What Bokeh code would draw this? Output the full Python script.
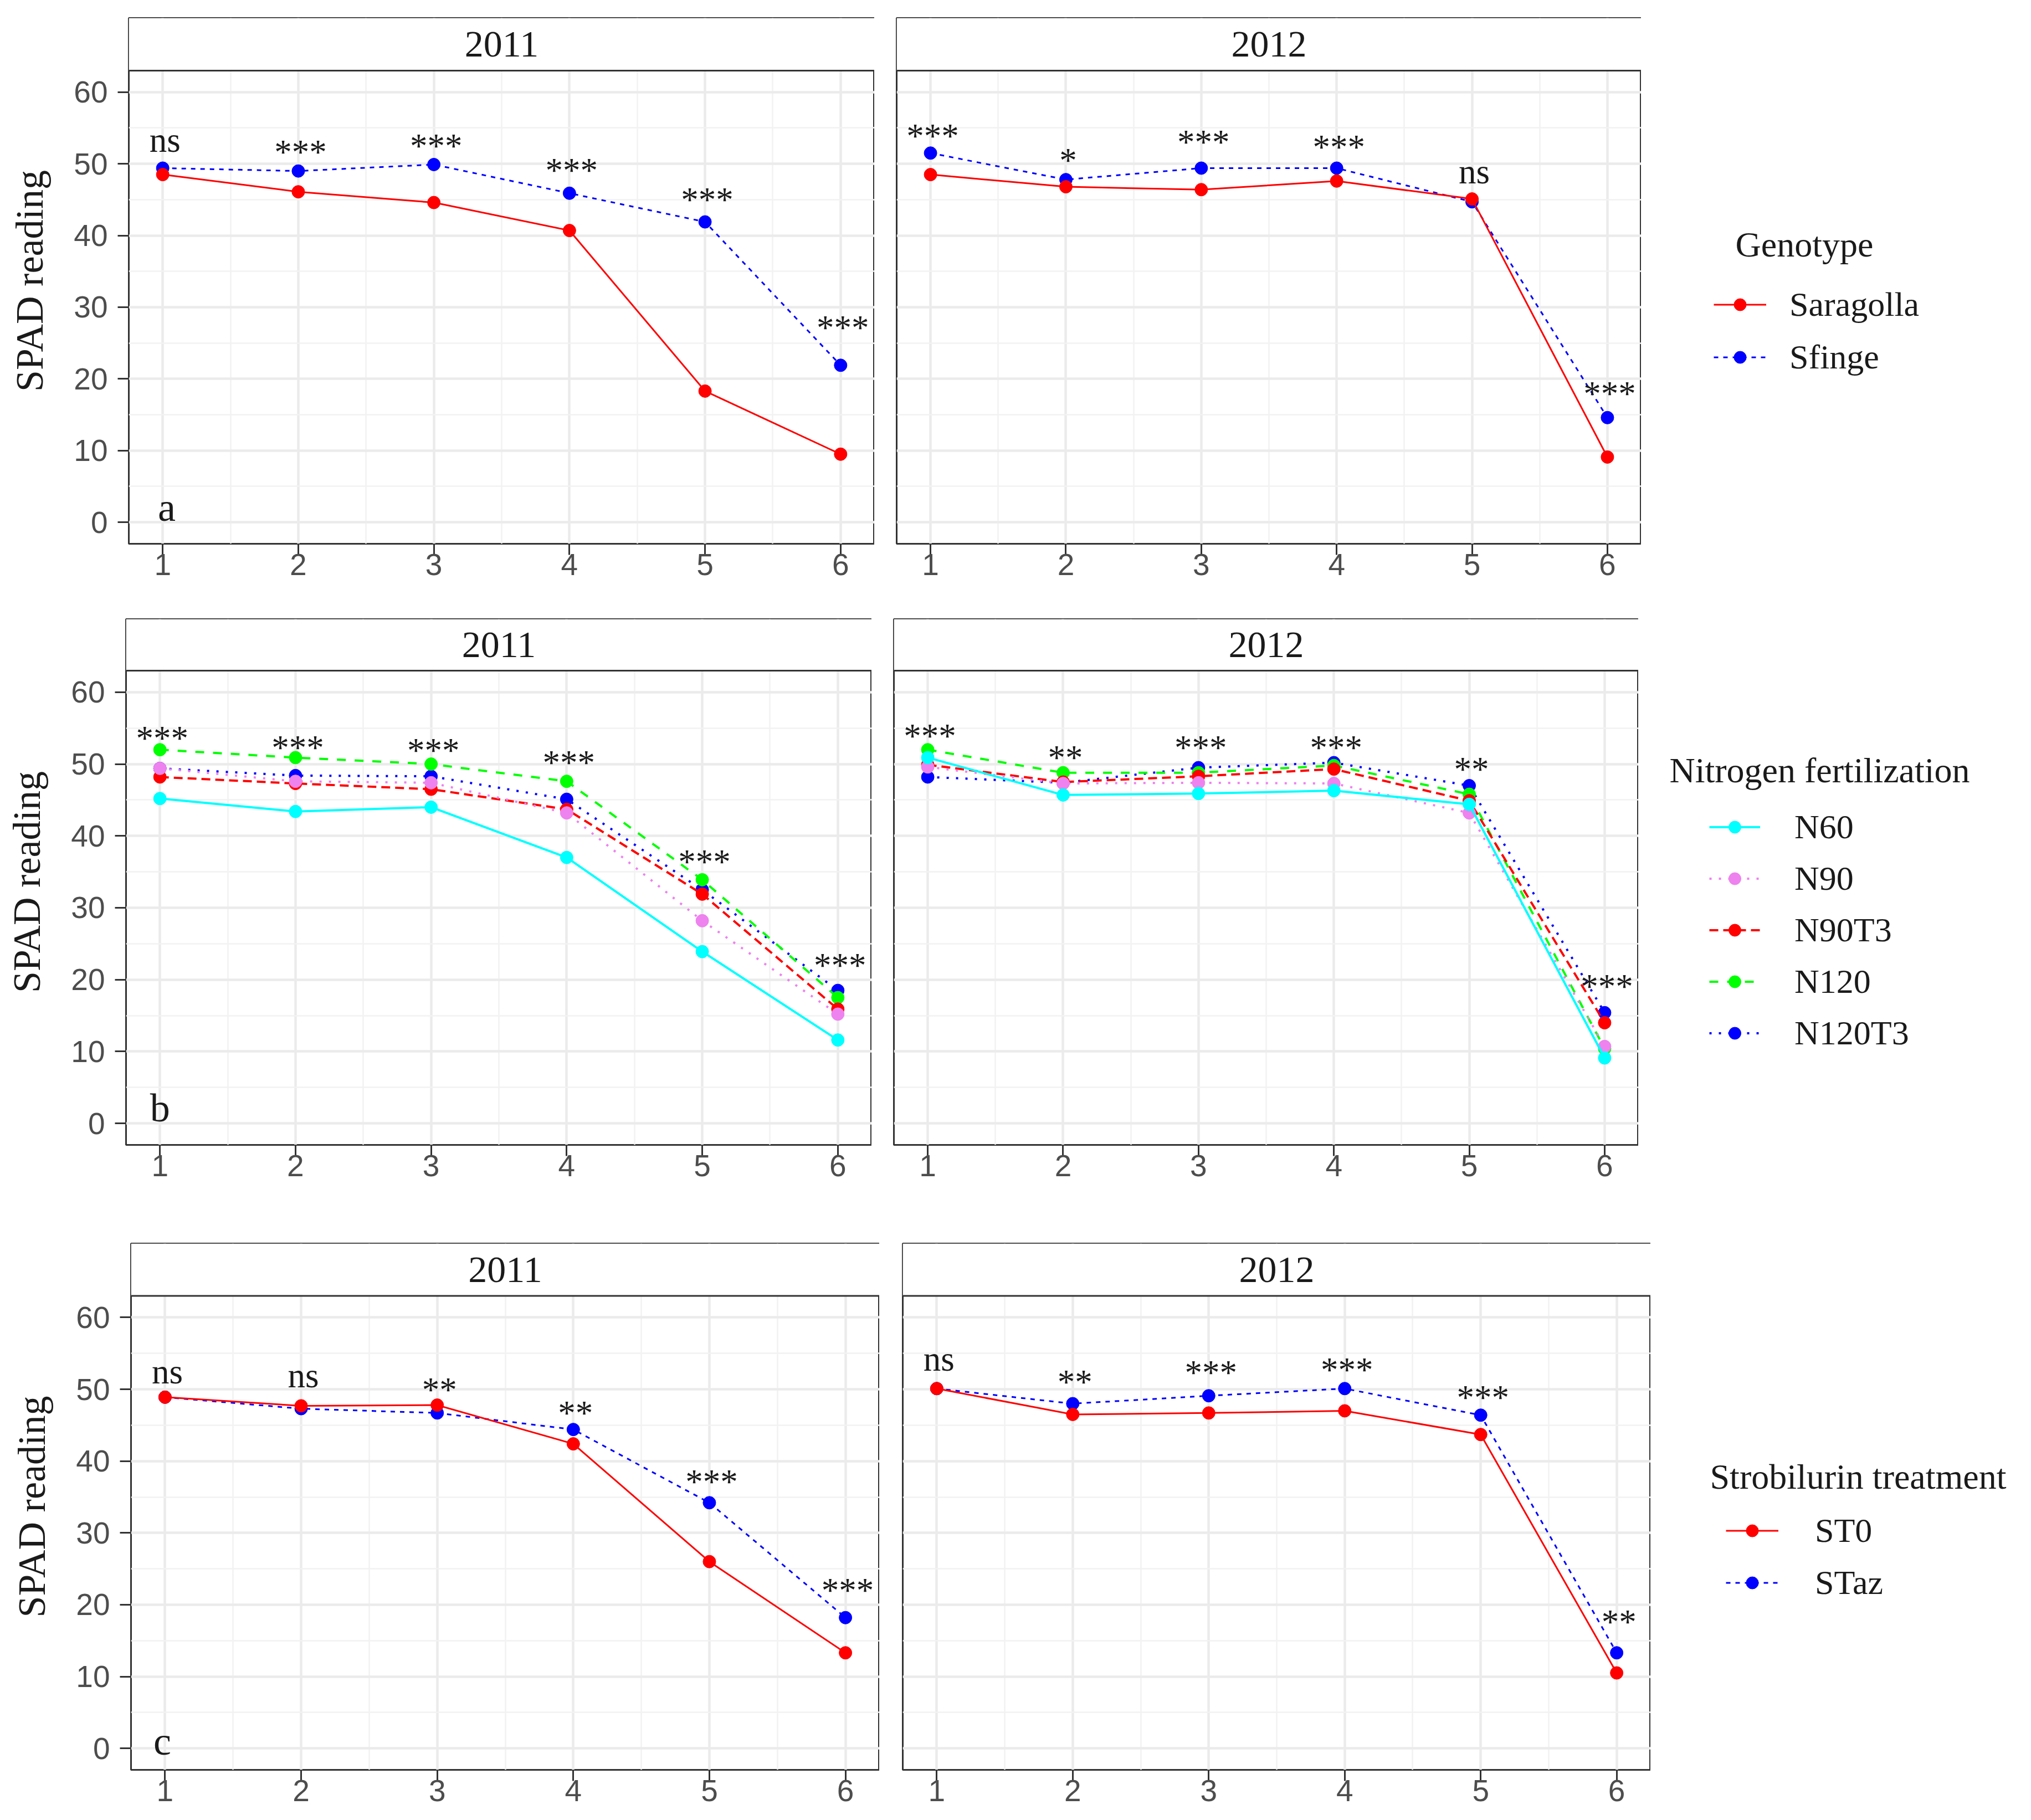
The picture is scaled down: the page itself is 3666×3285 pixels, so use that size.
from bokeh.plotting import figure
from bokeh.layouts import column, row
from bokeh.models import FixedTicker, BoxAnnotation, Span, Label, Legend, LegendItem
from bokeh.embed import file_html
from bokeh.resources import INLINE
from bokeh.core.properties import value

# ---------------- data ----------------
stages = [1, 2, 3, 4, 5, 6]
years = ["2011", "2012"]
y_ticks = [0, 10, 20, 30, 40, 50, 60]
y_label = "SPAD reading"

# (a) Genotype
geno_names = ["Saragolla", "Sfinge"]
saragolla_2011 = [48.5, 46.1, 44.6, 40.7, 18.3, 9.5]
sfinge_2011 = [49.4, 49.0, 49.9, 45.9, 41.9, 21.9]
saragolla_2012 = [48.5, 46.8, 46.4, 47.6, 45.1, 9.1]
sfinge_2012 = [51.5, 47.8, 49.4, 49.4, 44.7, 14.6]
sig_a_2011 = ["ns", "***", "***", "***", "***", "***"]
sig_a_2011_y = [53.0, 52.5, 53.4, 50.0, 45.9, 28.0]
sig_a_2012 = ["***", "*", "***", "***", "ns", "***"]
sig_a_2012_y = [54.8, 51.4, 53.9, 53.2, 48.6, 18.8]

# (b) Nitrogen fertilization
nitro_names = ["N60", "N90", "N90T3", "N120", "N120T3"]
n60_2011 = [45.2, 43.4, 44.0, 37.0, 23.9, 11.6]
n90_2011 = [49.4, 47.6, 47.4, 43.2, 28.2, 15.2]
n90t3_2011 = [48.2, 47.3, 46.5, 43.7, 31.9, 15.9]
n120_2011 = [52.0, 50.9, 50.0, 47.6, 33.9, 17.5]
n120t3_2011 = [49.4, 48.4, 48.3, 45.1, 32.5, 18.5]
n60_2012 = [50.9, 45.7, 45.9, 46.3, 44.4, 9.1]
n90_2012 = [49.6, 47.3, 47.4, 47.3, 43.2, 10.7]
n90t3_2012 = [49.9, 47.5, 48.3, 49.3, 44.9, 14.0]
n120_2012 = [52.0, 48.8, 48.8, 49.8, 45.8, 10.4]
n120t3_2012 = [48.2, 47.4, 49.5, 50.2, 47.0, 15.4]
sig_b_2011 = ["***", "***", "***", "***", "***", "***"]
sig_b_2011_y = [54.5, 53.2, 52.8, 51.1, 37.3, 22.9]
sig_b_2012 = ["***", "**", "***", "***", "**", "***"]
sig_b_2012_y = [54.8, 51.8, 53.2, 53.2, 50.2, 19.9]

# (c) Strobilurin treatment
strob_names = ["ST0", "STaz"]
st0_2011 = [48.9, 47.7, 47.8, 42.4, 26.0, 13.3]
staz_2011 = [48.9, 47.3, 46.7, 44.4, 34.2, 18.2]
st0_2012 = [50.1, 46.5, 46.7, 47.0, 43.7, 10.5]
staz_2012 = [50.1, 48.0, 49.1, 50.1, 46.4, 13.3]
sig_c_2011 = ["ns", "ns", "**", "**", "***", "***"]
sig_c_2011_y = [52.1, 51.6, 50.8, 47.6, 38.0, 22.9]
sig_c_2012 = ["ns", "**", "***", "***", "***", "**"]
sig_c_2012_y = [53.9, 51.9, 53.2, 53.6, 49.7, 18.5]

SERIF = "Liberation Serif"
SANS = "Liberation Sans"
TXT = "#1a1a1a"
RED, BLUE = "#ff0000", "#0000ff"
CYAN, VIOLET, GREEN = "#00ffff", "#ee82ee", "#00ff00"


def style_axis(ax):
    ax.axis_line_color = None
    ax.major_tick_out = 20
    ax.major_tick_in = 0
    ax.minor_tick_out = 0
    ax.minor_tick_in = 0
    ax.major_tick_line_color = "#333333"
    ax.major_tick_line_width = 3
    ax.major_label_text_font = SANS
    ax.major_label_text_font_size = "55px"
    ax.major_label_text_color = "#4d4d4d"


def make_panel(year, series, sig, sig_y, show_y, fw, fh, ytop, bl, bt, bb,
               letter=None, letter_x=None, letter_y=None):
    p = figure(frame_width=fw, frame_height=fh, x_range=(0.75, 6.25), y_range=(-3, ytop),
               output_backend="svg", toolbar_location=None, title=None,
               min_border_left=bl, min_border_right=0, min_border_top=bt, min_border_bottom=bb)
    p.background_fill_color = "white"
    p.border_fill_color = "white"
    p.outline_line_color = "#333333"
    p.outline_line_width = 3

    xa = p.xaxis[0]
    xa.ticker = FixedTicker(ticks=stages)
    style_axis(xa)
    xa.major_label_standoff = -2

    ya = p.yaxis[0]
    ya.ticker = FixedTicker(ticks=y_ticks)
    if show_y:
        style_axis(ya)
        ya.major_label_standoff = 18
        ya.axis_label = y_label
        ya.axis_label_text_font = SERIF
        ya.axis_label_text_font_style = "normal"
        ya.axis_label_text_font_size = "70px"
        ya.axis_label_text_color = TXT
        ya.axis_label_standoff = 38
    else:
        ya.visible = False

    p.xgrid.ticker = FixedTicker(ticks=stages, minor_ticks=[s + 0.5 for s in stages[:-1]])
    p.ygrid.ticker = FixedTicker(ticks=y_ticks, minor_ticks=[t + 5 for t in y_ticks[:-1]])
    for g in (p.xgrid[0], p.ygrid[0]):
        g.grid_line_color = "#ebebeb"
        g.grid_line_width = 4.5
        g.minor_grid_line_color = "#f2f2f2"
        g.minor_grid_line_width = 2.5

    for (name, vals, color, dash, lw) in series:
        p.line(stages, vals, line_color=color, line_width=lw, line_dash=dash)
        p.scatter(stages, vals, size=23, marker="circle", fill_color=color, line_color=color)

    offs = {"*": 12, "**": 12, "***": 12, "ns": -4}
    p.text(x=stages, y=sig_y, text=sig, x_offset=4, y_offset=[offs[s] for s in sig],
           text_align="center", text_baseline="middle", text_font=value(SERIF),
           text_font_size="63px", text_color=TXT)

    # facet strip
    p.add_layout(BoxAnnotation(bottom=63, fill_color="white", fill_alpha=1.0, line_color=None))
    p.add_layout(Span(location=63, dimension="width", line_color="#333333", line_width=3))
    p.add_layout(Label(x=3.5, y=(63 + ytop) / 2, text=year, text_align="center", text_baseline="middle",
                       text_font=SERIF, text_font_size="68px", text_color=TXT))

    if letter is not None:
        p.add_layout(Label(x=letter_x, y=letter_y, text=letter, text_align="center", text_baseline="middle",
                           text_font=SERIF, text_font_size="72px", text_color=TXT))
    return p


def make_legend(series, order, title, fw, fh, bt, bb, lx, ly, tx, ty, gw, standoff, spacing):
    p = figure(frame_width=fw, frame_height=fh, x_range=(0.75, 6.25), y_range=(-3, 63),
               output_backend="svg", toolbar_location=None, title=None,
               x_axis_location=None, y_axis_location=None,
               min_border_left=0, min_border_right=0, min_border_top=bt, min_border_bottom=bb)
    p.outline_line_color = None
    p.xgrid.visible = False
    p.ygrid.visible = False
    rends = {}
    for (name, vals, color, dash, lw) in series:
        lr = p.line(stages, vals, line_color=color, line_width=lw, line_dash=dash, visible=False)
        sr = p.scatter(stages, vals, size=23, marker="circle", fill_color=color, line_color=color,
                       visible=False)
        rends[name] = [lr, sr]
    items = [LegendItem(label=n, renderers=rends[n]) for n in order]
    lg = Legend(items=items, location=(lx, ly), orientation="vertical",
                border_line_color=None, background_fill_alpha=0, padding=0, margin=0,
                spacing=spacing, glyph_width=gw, glyph_height=55, label_height=55,
                label_standoff=standoff, label_text_font=SERIF, label_text_font_size="62px",
                label_text_color=TXT, label_text_baseline="middle",
                inactive_fill_alpha=0)
    p.add_layout(lg)
    p.add_layout(Label(x=tx, y=ty, x_units="screen", y_units="screen", text=title,
                       text_align="left", text_baseline="middle", text_font=SERIF,
                       text_font_size="64px", text_color=TXT))
    return p


# ---- row a ----
a11 = [("Sfinge", sfinge_2011, BLUE, "8 9", 3), ("Saragolla", saragolla_2011, RED, "solid", 3)]
a12 = [("Sfinge", sfinge_2012, BLUE, "8 9", 3), ("Saragolla", saragolla_2012, RED, "solid", 3)]
pa1 = make_panel(years[0], a11, sig_a_2011, sig_a_2011_y, True, 1346, 949, 70.34, 232, 32, 99,
                 letter="a", letter_x=1.03, letter_y=2.1)
pa2 = make_panel(years[1], a12, sig_a_2012, sig_a_2012_y, False, 1344, 949, 70.34, 40, 32, 99)
pa3 = make_legend(a12, geno_names, "Genotype", 696, 949, 32, 99, 131, 301, 170, 540, 95, 42, 24)

# ---- row b ----
def nseries(v60, v90, v90t3, v120, v120t3):
    return [("N120T3", v120t3, BLUE, "4 13", 4), ("N120", v120, GREEN, "16 16", 4),
            ("N90T3", v90t3, RED, "16 9", 4), ("N90", v90, VIOLET, "4 13", 4),
            ("N60", v60, CYAN, "solid", 4)]

b11 = nseries(n60_2011, n90_2011, n90t3_2011, n120_2011, n120t3_2011)
b12 = nseries(n60_2012, n90_2012, n90t3_2012, n120_2012, n120t3_2012)
pb1 = make_panel(years[0], b11, sig_b_2011, sig_b_2011_y, True, 1346, 949, 70.17, 227, 37, 114,
                 letter="b", letter_x=1.0, letter_y=2.1)
pb2 = make_panel(years[1], b12, sig_b_2012, sig_b_2012_y, False, 1344, 949, 70.17, 40, 37, 114)
pb3 = make_legend(b12, nitro_names, "Nitrogen fertilization", 701, 949, 37, 114,
                  128, 166, 56, 676, 92, 62, 22)

# ---- row c ----
c11 = [("STaz", staz_2011, BLUE, "8 9", 3), ("ST0", st0_2011, RED, "solid", 3)]
c12 = [("STaz", staz_2012, BLUE, "8 9", 3), ("ST0", st0_2012, RED, "solid", 3)]
pc1 = make_panel(years[0], c11, sig_c_2011, sig_c_2011_y, True, 1351, 950, 70.3, 236, 64, 88,
                 letter="c", letter_x=0.98, letter_y=1.0)
pc2 = make_panel(years[1], c12, sig_c_2012, sig_c_2012_y, False, 1350, 950, 70.3, 42, 64, 88)
pc3 = make_legend(c12, strob_names, "Strobilurin treatment", 679, 950, 64, 88,
                  136, 302, 107, 529, 95, 66, 23)

layout = column(row(pa1, pa2, pa3, spacing=0), row(pb1, pb2, pb3, spacing=0),
                row(pc1, pc2, pc3, spacing=0), spacing=0)

open("out.html", "w").write(file_html(layout, INLINE))
